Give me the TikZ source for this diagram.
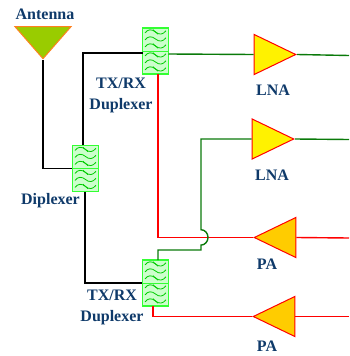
\documentclass[tikz,border=0pt]{standalone}
\usepackage{fontspec}
\setmainfont{Liberation Serif}
\usetikzlibrary{shapes.geometric,calc}
\definecolor{lbl}{HTML}{0F3A6A}
\definecolor{filtfill}{HTML}{CCFFCC}
\definecolor{filtline}{HTML}{33FF33}
\definecolor{wavec}{HTML}{00CC00}
\definecolor{wire}{HTML}{0A7A0A}
\definecolor{pafill}{HTML}{FFCC00}
\definecolor{antfill}{HTML}{99CC00}
\definecolor{antline}{HTML}{FF8020}
\tikzset{
  lbl/.style={font=\fontsize{16}{21}\selectfont\bfseries,text=lbl,inner sep=0pt,align=center},
  filterbox/.style={draw=filtline,fill=filtfill,line width=1.1pt,minimum width=26pt,minimum height=46pt,inner sep=0pt},
  wave/.style={draw=wavec,line width=0.8pt},
  tri/.style={isosceles triangle,isosceles triangle stretches,shape border rotate=#1,inner sep=0pt,draw=red,line width=1pt,line join=miter},
  amp/.style={tri=#1,minimum width=40pt,minimum height=41.5pt},
  blk/.style={draw=black,line width=1.5pt},
  grn/.style={draw=wire,line width=1.4pt},
  rdw/.style={draw=red,line width=1.4pt}
}
\newcommand{\filterart}[1]{%
  \draw[filtline,line width=1pt] (#1.west) -- (#1.east);
  \foreach \oy/\tick in {4.5/1,11.5/0,18.5/1,27.5/1,34.5/0,41.5/1}{
    \begin{scope}[shift={($(#1.north west)+(0,\oy)$)}]
      \draw[wave] (3,1) .. controls (6,-3) and (10,-3) .. (13.5,0) .. controls (17,3) and (21,3) .. (24,-1.2);
      \ifnum\tick=1
        \draw[wave] (11,-2.2) -- (16,2.2);
      \fi
    \end{scope}
  }
}
\begin{document}
\begin{tikzpicture}[x=1pt,y=-1pt]
\useasboundingbox (0,0) rectangle (349,356);
% nodes
\node[tri=270,fill=antfill,draw=antline,minimum width=56pt,minimum height=32pt,anchor=apex] (ant) at (43,60) {};
\node[filterbox] (fa) at (155.5,51) {};
\node[filterbox] (dip) at (85.5,168.5) {};
\node[filterbox] (fb) at (155.5,283) {};
\node[amp=0,fill=yellow,anchor=apex] (lna1) at (297,54.5) {};
\node[amp=0,fill=yellow,anchor=apex] (lna2) at (295,139) {};
\node[amp=180,fill=pafill,anchor=apex] (pa1) at (253,237.5) {};
\node[amp=180,fill=pafill,anchor=apex] (pa2) at (252,316.5) {};
\filterart{fa}\filterart{dip}\filterart{fb}
% free ends
\coordinate (o1) at (349,55.5);
\coordinate (o2) at (349,139.5);
\coordinate (o3) at (349,238);
\coordinate (o4) at (349,316.5);
\coordinate (fain) at (142.5,53);
\coordinate (faout) at (168.5,54);
% connectors
\draw[blk] (ant.apex) |- (dip.west);
\draw[blk] (83,145) |- (fain);
\draw[blk] (85,192) |- (fb.west);
\draw[grn] (faout) -- (lna1.lower side);
\draw[grn] (lna1.apex) -- (o1);
\draw[grn] (lna2.apex) -- (o2);
\draw[rdw] (158,74) |- (pa1.apex);
\draw[grn] (lna2.lower side) -| (201,229.7) arc[start angle=-90,end angle=90,x radius=7,y radius=7.7] -- (201,250) -| (158,260);
\draw[rdw] (pa1.lower side) -- (o3);
\draw[rdw] (pa2.lower side) -- (o4);
\draw[rdw] (pa2.apex) -| (153,306);
% labels
\node[lbl] (tant) at (45,14) {Antenna};
\node[lbl] (tfa) at (121,95) {TX/RX\\Duplexer};
\node[lbl] (tdip) at (50.5,201) {Diplexer};
\node[lbl] (tfb) at (112,307.5) {TX/RX\\Duplexer};
\node[lbl] (tl1) at (273,90) {LNA};
\node[lbl] (tl2) at (272,175) {LNA};
\node[lbl] (tp1) at (267,264) {PA};
\node[lbl] (tp2) at (267,346) {PA};
\end{tikzpicture}
\end{document}
